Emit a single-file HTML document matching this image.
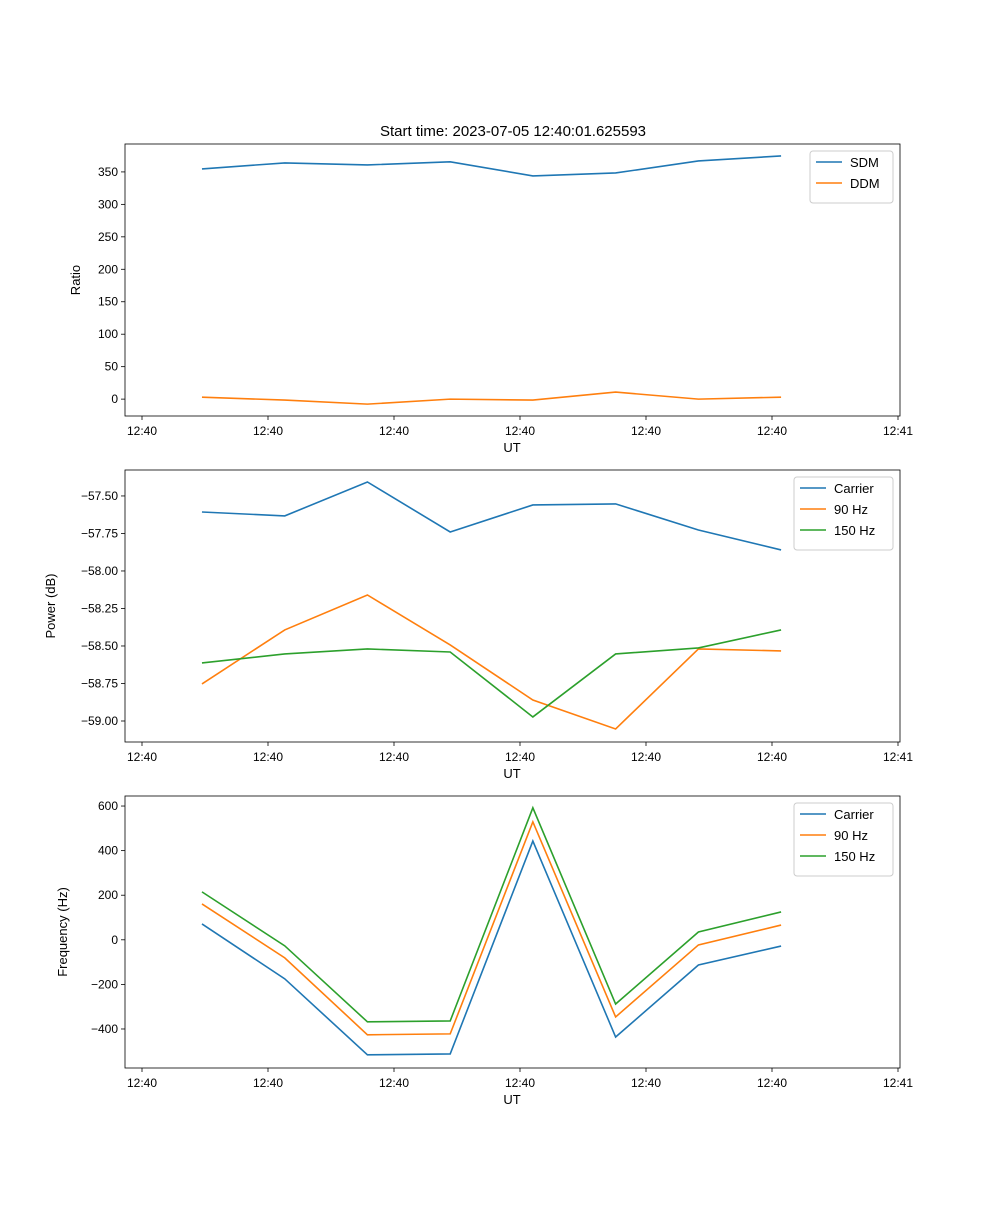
<!DOCTYPE html>
<html><head><meta charset="utf-8"><style>
body{margin:0;background:#fff}
svg{font-family:"Liberation Sans","DejaVu Sans",sans-serif}
</style></head><body>
<svg id="fig" width="1000" height="1200" xmlns="http://www.w3.org/2000/svg">
<rect width="1000" height="1200" fill="#fff"/>
<text x="513" y="136" font-size="15" text-anchor="middle">Start time: 2023-07-05 12:40:01.625593</text>
</svg>
<script>
const xTicks=[0,1,2,3,4,5,6];
const xTickLabels=["12:40","12:40","12:40","12:40","12:40","12:40","12:41"];
const times=[0.476,1.133,1.789,2.446,3.102,3.759,4.416,5.072];
const sdm=[354.6,363.9,360.8,365.5,343.8,348.4,366.9,374.6];
const ddm=[3,-1.5,-7.7,0,-1.5,10.8,0,3];
const powCarrier=[-57.607,-57.633,-57.407,-57.74,-57.56,-57.553,-57.727,-57.86];
const pow90=[-58.753,-58.393,-58.16,-58.493,-58.86,-59.053,-58.52,-58.533];
const pow150=[-58.613,-58.553,-58.52,-58.54,-58.973,-58.553,-58.513,-58.393];
const freqCarrier=[71,-175,-516,-512,443,-436,-113,-28];
const freq90=[161,-81,-426,-422,529,-346,-23,66];
const freq150=[215,-27,-368,-364,592,-288,35,125];
const yTicks1=[0,50,100,150,200,250,300,350];
const yTicks2=[-59.0,-58.75,-58.5,-58.25,-58.0,-57.75,-57.5];
const yTicks3=[-400,-200,0,200,400,600];
const C=["#1f77b4","#ff7f0e","#2ca02c"];
const svg=document.getElementById('fig');
const NS="http://www.w3.org/2000/svg";
function mk(t,a,p){const e=document.createElementNS(NS,t);for(const k in a)e.setAttribute(k,a[k]);(p||svg).appendChild(e);return e;}
const L=125,R=900;
const xS=t=>142+t*126;
function panel(name,top,bot,ymin,ymax,yt,fmt,ylabel,series,lx,lw){
  const g=mk('g',{});
  
  
  const yS=v=>bot-(v-ymin)/(ymax-ymin)*(bot-top);
  xTicks.forEach((t,i)=>{const x=xS(t);
    const tk=mk('line',{x1:x,x2:x,y1:bot,y2:bot+4,stroke:'#000','stroke-width':0.8},g);
    
    const tx=mk('text',{x:x,y:bot+19,'font-size':12,'text-anchor':'middle'},g);tx.textContent=xTickLabels[i];
    });
  yt.forEach(v=>{const y=yS(v);
    const tk=mk('line',{x1:L-4,x2:L,y1:y,y2:y,stroke:'#000','stroke-width':0.8},g);
    
    const tx=mk('text',{x:L-7,y:y+4,'font-size':12,'text-anchor':'end'},g);tx.textContent=fmt(v);
    });
  const xl=mk('text',{x:512,y:bot+36,'font-size':13,'text-anchor':'middle'},g);xl.textContent='UT';
  
  const yc=(top+bot)/2, yx=ylabel.x;
  const yl=mk('text',{x:yx,y:yc,'font-size':13,'text-anchor':'middle',transform:`rotate(-90 ${yx} ${yc})`},g);yl.textContent=ylabel.t;
  
  series.forEach((s,i)=>{
    const p=mk('polyline',{points:s.d.map((v,j)=>xS(times[j])+','+yS(v)).join(' '),fill:'none',stroke:C[i],'stroke-width':1.6},g);
    });
  const fr=mk('rect',{x:L,y:top,width:R-L,height:bot-top,fill:'none',stroke:'#000','stroke-width':0.8},g);
  
  const lg=mk('g',{},g);
  mk('rect',{x:lx,y:top+7,width:lw,height:10+series.length*21,fill:'#fff',stroke:'#ccc',rx:3},lg);
  series.forEach((s,i)=>{const y=top+18+i*21;
    mk('line',{x1:lx+6,x2:lx+32,y1:y,y2:y,stroke:C[i],'stroke-width':1.6},lg);
    const t=mk('text',{x:lx+40,y:y+5,'font-size':13},lg);t.textContent=s.n;
    });
}
const m=v=>String(v).replace('-','\u2212');
panel('ratio-panel',144,416,-26,393,yTicks1,v=>m(v),{x:80,t:'Ratio'},[{n:'SDM',d:sdm},{n:'DDM',d:ddm}],810,83);
panel('power-panel',470,742,-59.14,-57.327,yTicks2,v=>m(v.toFixed(2)),{x:55,t:'Power (dB)'},[{n:'Carrier',d:powCarrier},{n:'90 Hz',d:pow90},{n:'150 Hz',d:pow150}],794,99);
panel('frequency-panel',796,1068,-575,645,yTicks3,v=>m(v),{x:67,t:'Frequency (Hz)'},[{n:'Carrier',d:freqCarrier},{n:'90 Hz',d:freq90},{n:'150 Hz',d:freq150}],794,99);
</script>
</body></html>
